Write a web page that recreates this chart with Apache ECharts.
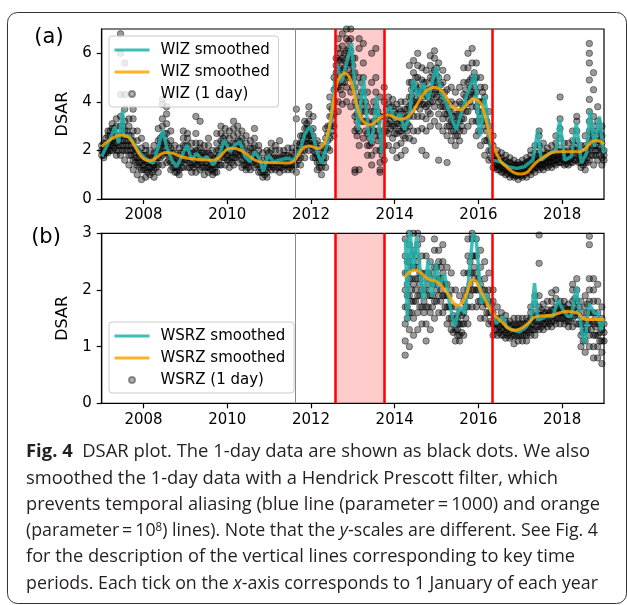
<!DOCTYPE html>
<html>
<head>
<meta charset="utf-8">
<title>DSAR plot</title>
<script src="https://cdn.jsdelivr.net/npm/echarts@6/dist/echarts.min.js"></script>
<style>
  html, body { margin: 0; padding: 0; background: #fff; }
  #chart { width: 627px; height: 605px; }
</style>
</head>
<body>
<div id="chart"></div>
<script>
// axis ticks
const xTicks = [2008, 2010, 2012, 2014, 2016, 2018]
const wizTicks = [0, 2, 4, 6]
const wsrzTicks = [0, 1, 2, 3]

// key time periods (decimal years)
const greyLine = 2011.62
const redLines = [2012.58, 2013.75, 2016.32]
const unrestSpan = [2012.58, 2013.75]

// WIZ 1-day values, full spread per 0.1 year: [year, [values]]
const wizDays = [
  [2007.05, [1.7, 1.9, 2.1, 2.3, 2.0, 1.8]],
  [2007.15, [2.0, 2.3, 2.6, 2.8, 2.2, 1.9]],
  [2007.25, [2.2, 2.6, 2.9, 3.1, 2.4, 2.0]],
  [2007.35, [2.0, 2.3, 2.6, 3.0, 3.3, 1.8]],
  [2007.45, [1.8, 2.2, 2.6, 3.0, 3.4, 4.3, 6.8, 6.0]],
  [2007.55, [1.6, 2.0, 2.4, 2.8, 3.2, 3.7, 5.6, 4.3]],
  [2007.65, [1.4, 1.8, 2.2, 2.6, 3.0, 3.3]],
  [2007.75, [1.2, 1.6, 2.0, 2.4, 2.8, 3.3, 3.7]],
  [2007.85, [1.0, 1.4, 1.7, 2.0, 2.4, 2.8]],
  [2007.95, [0.8, 1.2, 1.5, 1.8, 2.1, 2.5]],
  [2008.05, [0.9, 1.2, 1.5, 1.8, 2.0, 2.2]],
  [2008.15, [1.0, 1.3, 1.5, 1.7, 2.0]],
  [2008.25, [0.9, 1.2, 1.4, 1.7, 1.9, 2.2]],
  [2008.35, [1.1, 1.4, 1.7, 2.0, 2.4, 2.9]],
  [2008.45, [1.4, 1.8, 2.2, 2.6, 3.0, 3.3, 4.1, 3.9]],
  [2008.55, [1.5, 1.9, 2.3, 2.7, 3.1, 3.5, 3.8]],
  [2008.65, [1.2, 1.5, 1.8, 2.1, 2.4, 2.8]],
  [2008.75, [1.1, 1.3, 1.6, 1.9, 2.2]],
  [2008.85, [1.0, 1.2, 1.5, 1.8, 2.1]],
  [2008.95, [1.3, 1.6, 1.9, 2.2, 2.5, 2.8]],
  [2009.05, [1.3, 1.6, 1.9, 2.2, 2.5, 2.7]],
  [2009.15, [1.1, 1.4, 1.7, 2.0, 2.3]],
  [2009.25, [1.1, 1.4, 1.7, 2.0, 2.3, 2.7, 3.4]],
  [2009.35, [1.2, 1.5, 1.8, 2.1, 2.3, 3.2]],
  [2009.45, [1.0, 1.3, 1.6, 1.9, 2.2]],
  [2009.55, [1.1, 1.3, 1.6, 1.9, 2.2, 2.5]],
  [2009.65, [1.0, 1.2, 1.4, 1.7, 2.0]],
  [2009.75, [1.1, 1.4, 1.7, 2.0, 2.3, 2.7]],
  [2009.85, [1.4, 1.8, 2.1, 2.4, 2.7, 3.0]],
  [2009.95, [1.4, 1.7, 2.0, 2.3, 2.6, 2.9]],
  [2010.05, [1.3, 1.6, 1.9, 2.2, 2.5, 2.8]],
  [2010.15, [1.4, 1.7, 2.0, 2.3, 2.6, 2.9, 3.2]],
  [2010.25, [1.5, 1.8, 2.1, 2.4, 2.7, 3.0]],
  [2010.35, [1.3, 1.6, 1.9, 2.2, 2.5, 2.8]],
  [2010.45, [1.2, 1.4, 1.7, 2.0, 2.3, 2.6]],
  [2010.55, [1.2, 1.5, 1.8, 2.1, 2.4]],
  [2010.65, [1.3, 1.6, 1.9, 2.2, 2.5, 2.9]],
  [2010.75, [1.1, 1.4, 1.7, 2.0, 2.2]],
  [2010.85, [0.9, 1.1, 1.3, 1.6, 1.9]],
  [2010.95, [0.9, 1.1, 1.4, 1.7, 2.0]],
  [2011.05, [1.2, 1.4, 1.7, 2.0, 2.3]],
  [2011.15, [1.2, 1.5, 1.7, 2.0, 2.2]],
  [2011.25, [1.1, 1.3, 1.5, 1.7, 2.0, 2.4]],
  [2011.35, [1.2, 1.4, 1.6, 1.8, 2.0]],
  [2011.45, [1.2, 1.4, 1.6, 1.8, 2.1]],
  [2011.55, [1.2, 1.4, 1.6, 1.9, 2.1]],
  [2011.65, [1.1, 1.4, 1.7, 2.0, 2.3, 3.3, 3.7]],
  [2011.75, [1.4, 1.7, 2.0, 2.3, 2.6]],
  [2011.85, [1.7, 2.0, 2.3, 2.6, 2.9, 3.2]],
  [2011.95, [2.0, 2.3, 2.6, 2.9, 3.2, 3.5, 3.8]],
  [2012.05, [1.7, 2.0, 2.3, 2.6, 2.9, 3.4]],
  [2012.15, [1.2, 1.5, 1.8, 2.1, 2.4]],
  [2012.25, [1.0, 1.3, 1.6, 1.9, 2.2]],
  [2012.35, [1.3, 1.7, 2.1, 2.5, 2.9]],
  [2012.45, [2.0, 2.5, 3.0, 3.4, 3.8, 4.2]],
  [2012.55, [2.6, 3.0, 3.5, 4.0, 4.5, 5.0]],
  [2012.65, [4.0, 4.6, 5.2, 5.7, 6.2, 3.6, 6.6]],
  [2012.75, [4.3, 4.8, 5.3, 5.8, 6.3, 6.8, 3.9]],
  [2012.85, [4.0, 4.6, 5.1, 5.6, 6.1, 6.6, 7.0]],
  [2012.95, [4.4, 5.0, 5.6, 6.1, 6.6, 7.0, 3.8]],
  [2013.05, [2.8, 3.4, 4.0, 4.6, 5.2, 5.8, 1.2, 1.1]],
  [2013.15, [1.2, 2.2, 2.8, 3.4, 4.2, 5.0, 6.2, 6.6]],
  [2013.25, [2.5, 3.2, 3.8, 4.4, 5.0, 5.6, 6.4]],
  [2013.35, [1.8, 2.2, 2.7, 3.2, 3.8, 4.4]],
  [2013.45, [1.4, 1.8, 2.3, 2.9, 3.6, 4.8, 6.0]],
  [2013.55, [2.0, 2.6, 3.2, 3.8, 4.4, 5.0, 6.2]],
  [2013.65, [1.1, 1.5, 2.0, 2.6, 3.4, 4.2, 1.2]],
  [2013.75, [1.6, 2.2, 2.8, 3.4, 4.0, 4.6]],
  [2013.85, [2.2, 2.7, 3.1, 3.5, 3.9, 4.2]],
  [2013.95, [2.0, 2.5, 3.0, 3.4, 3.8, 4.1]],
  [2014.05, [1.7, 2.2, 2.7, 3.1, 3.5, 3.9]],
  [2014.15, [1.8, 2.3, 2.8, 3.2, 3.6, 4.0]],
  [2014.25, [2.0, 2.5, 2.9, 3.3, 3.7, 4.0]],
  [2014.35, [2.5, 3.0, 3.4, 3.8, 4.2, 4.8, 5.5]],
  [2014.45, [2.8, 3.4, 4.0, 4.6, 5.2, 5.7, 2.4]],
  [2014.55, [2.8, 3.4, 4.0, 4.5, 5.0, 5.5, 6.0]],
  [2014.65, [2.9, 3.4, 3.9, 4.4, 4.9, 5.4, 2.0]],
  [2014.75, [2.8, 3.3, 3.8, 4.3, 4.8, 5.3, 1.8]],
  [2014.85, [3.0, 3.5, 4.0, 4.5, 5.0, 5.5, 5.9]],
  [2014.95, [3.2, 3.8, 4.3, 4.8, 5.3, 5.8, 6.1]],
  [2015.05, [3.0, 3.5, 4.0, 4.5, 5.0, 5.6, 1.6]],
  [2015.15, [2.8, 3.3, 3.8, 4.3, 4.8, 5.3]],
  [2015.25, [2.6, 3.0, 3.5, 4.0, 4.5, 5.0, 1.5]],
  [2015.35, [2.4, 2.8, 3.2, 3.6, 4.0, 4.6]],
  [2015.45, [2.2, 2.6, 3.0, 3.4, 3.9, 4.4]],
  [2015.55, [2.4, 2.8, 3.2, 3.6, 4.0, 4.6]],
  [2015.65, [2.8, 3.3, 3.8, 4.3, 4.8, 5.4]],
  [2015.75, [3.0, 3.6, 4.2, 4.8, 5.4, 6.0]],
  [2015.85, [3.2, 3.8, 4.4, 5.0, 5.6, 6.2]],
  [2015.95, [2.6, 3.2, 3.8, 4.4, 5.0, 5.6]],
  [2016.05, [2.2, 2.8, 3.4, 4.0, 4.6, 5.0]],
  [2016.15, [1.8, 2.4, 3.0, 3.6, 4.2, 4.6]],
  [2016.25, [1.6, 2.0, 2.5, 3.0, 3.6]],
  [2016.35, [1.3, 1.6, 1.9, 2.2, 2.6]],
  [2016.45, [1.2, 1.4, 1.6, 1.8, 2.0]],
  [2016.55, [1.1, 1.3, 1.5, 1.7, 1.9]],
  [2016.65, [1.0, 1.2, 1.4, 1.6, 1.8]],
  [2016.75, [0.9, 1.1, 1.3, 1.5, 1.7]],
  [2016.85, [0.9, 1.0, 1.2, 1.4, 1.6]],
  [2016.95, [0.8, 1.0, 1.2, 1.4, 1.5]],
  [2017.05, [0.9, 1.0, 1.2, 1.4, 1.6]],
  [2017.15, [0.9, 1.1, 1.3, 1.5, 1.7]],
  [2017.25, [1.0, 1.2, 1.4, 1.6, 1.8, 2.0]],
  [2017.35, [1.1, 1.3, 1.5, 1.7, 1.9, 2.2]],
  [2017.45, [1.2, 1.4, 1.6, 1.9, 2.2, 2.6, 2.8]],
  [2017.55, [1.2, 1.4, 1.6, 1.8, 2.0, 2.3]],
  [2017.65, [1.3, 1.5, 1.7, 1.9, 2.1]],
  [2017.75, [1.3, 1.5, 1.7, 1.9, 2.2]],
  [2017.85, [1.4, 1.6, 1.8, 2.0, 2.3, 2.6]],
  [2017.95, [1.5, 1.8, 2.1, 2.5, 2.9, 3.3, 4.2]],
  [2018.05, [1.4, 1.6, 1.8, 2.0, 2.3]],
  [2018.15, [1.4, 1.6, 1.8, 2.0, 2.3]],
  [2018.25, [1.5, 1.8, 2.1, 2.4, 2.8]],
  [2018.35, [1.6, 2.0, 2.4, 2.8, 3.2, 3.4]],
  [2018.45, [1.3, 1.5, 1.7, 1.9, 2.2]],
  [2018.55, [1.2, 1.5, 1.8, 2.2, 2.6]],
  [2018.65, [1.6, 2.0, 2.4, 2.8, 3.2, 3.6, 4.1, 4.9, 5.6, 6.0, 6.4]],
  [2018.75, [1.4, 1.8, 2.2, 2.6, 3.0, 3.4, 5.2, 4.5]],
  [2018.85, [1.6, 2.0, 2.4, 2.8, 3.2, 3.8]],
  [2018.95, [1.4, 1.7, 2.0, 2.3, 2.6, 3.0]]
]

// WIZ 1-day values inside the dense black band, per 0.1 year
const wizCore = [
  [2007.0, [1.8, 2.0, 2.2]], [2007.1, [1.9, 2.1, 2.3, 2.5]], [2007.2, [2.0, 2.2, 2.4, 2.6, 2.8]],
  [2007.3, [2.1, 2.3, 2.5, 2.7, 2.9]], [2007.4, [2.0, 2.2, 2.4, 2.6]], [2007.5, [2.0, 2.2, 2.4, 2.6, 2.8, 3.0]],
  [2007.6, [2.0, 2.2, 2.4, 2.6, 2.8]], [2007.7, [1.8, 2.0, 2.2, 2.4, 2.6]], [2007.8, [1.5, 1.7, 1.9, 2.1]],
  [2007.9, [1.3, 1.5, 1.7, 1.9]], [2008.0, [1.2, 1.4, 1.6, 1.8]], [2008.1, [1.1, 1.3, 1.5, 1.7]],
  [2008.2, [1.1, 1.3, 1.5, 1.7]], [2008.3, [1.3, 1.5, 1.7, 1.9]], [2008.4, [1.7, 1.9, 2.1, 2.3, 2.5]],
  [2008.5, [1.9, 2.1, 2.3, 2.5, 2.7]], [2008.6, [1.6, 1.8, 2.0, 2.2]], [2008.7, [1.3, 1.5, 1.7, 1.9]],
  [2008.8, [1.1, 1.3, 1.5, 1.7]], [2008.9, [1.3, 1.5, 1.7, 1.9]], [2009.0, [1.6, 1.8, 2.0, 2.2]],
  [2009.1, [1.3, 1.5, 1.7, 1.9]], [2009.2, [1.3, 1.5, 1.7, 1.9]], [2009.3, [1.4, 1.6, 1.8, 2.0]],
  [2009.4, [1.3, 1.5, 1.7, 1.9]], [2009.5, [1.3, 1.5, 1.7, 1.9]], [2009.6, [1.2, 1.4, 1.6, 1.8]],
  [2009.7, [1.1, 1.3, 1.5, 1.7]], [2009.8, [1.4, 1.6, 1.8, 2.0]], [2009.9, [1.7, 1.9, 2.1, 2.3, 2.5]],
  [2010.0, [1.6, 1.8, 2.0, 2.2]], [2010.1, [1.5, 1.7, 1.9, 2.1]], [2010.2, [1.7, 1.9, 2.1, 2.3]],
  [2010.3, [1.8, 2.0, 2.2, 2.4]], [2010.4, [1.4, 1.6, 1.8, 2.0]], [2010.5, [1.3, 1.5, 1.7]],
  [2010.6, [1.5, 1.7, 1.9, 2.1]], [2010.7, [1.4, 1.6, 1.8]], [2010.8, [1.1, 1.3, 1.5]],
  [2010.9, [1.0, 1.2, 1.4]], [2011.0, [1.3, 1.5, 1.7, 1.9]], [2011.1, [1.3, 1.5, 1.7]],
  [2011.2, [1.3, 1.5, 1.7]], [2011.3, [1.3, 1.5, 1.7]], [2011.4, [1.4, 1.6, 1.8]],
  [2011.5, [1.3, 1.5, 1.7]], [2011.6, [1.4, 1.6, 1.8]], [2011.7, [1.6, 1.8, 2.0, 2.2]],
  [2011.8, [2.0, 2.2, 2.4, 2.6]], [2011.9, [2.3, 2.5, 2.7, 2.9, 3.1]], [2012.0, [2.2, 2.4, 2.6, 2.8]],
  [2012.1, [1.7, 1.9, 2.1, 2.3]], [2012.2, [1.3, 1.5, 1.7]], [2012.3, [1.5, 1.7, 1.9, 2.1]],
  [2012.4, [2.1, 2.4, 2.7, 3.0]], [2012.5, [2.8, 3.1, 3.4, 3.7]], [2012.6, [4.6, 4.9, 5.2, 5.5, 5.8]],
  [2012.7, [4.5, 4.8, 5.1, 5.4, 5.7, 6.0]], [2012.8, [4.8, 5.1, 5.4, 5.7, 6.0]], [2012.9, [5.0, 5.3, 5.6, 5.9, 6.2, 6.5]],
  [2013.0, [4.6, 4.9, 5.2, 5.5, 5.8]], [2013.1, [2.6, 2.9, 3.2, 3.5, 3.8]], [2013.2, [3.2, 3.6, 4.0, 4.4, 4.8]],
  [2013.3, [2.8, 3.2, 3.6, 4.0]], [2013.4, [2.2, 2.5, 2.8, 3.1]], [2013.5, [2.8, 3.2, 3.6, 4.0]],
  [2013.6, [2.4, 2.8, 3.2, 3.6]], [2013.7, [1.8, 2.1, 2.4, 2.8]], [2013.8, [2.8, 3.1, 3.4, 3.7]],
  [2013.9, [2.9, 3.2, 3.5, 3.8]], [2014.0, [2.7, 3.0, 3.3, 3.6]], [2014.1, [2.8, 3.1, 3.4, 3.7]],
  [2014.2, [2.6, 2.9, 3.2, 3.5]], [2014.3, [2.8, 3.1, 3.4, 3.7]], [2014.4, [3.6, 3.9, 4.2, 4.5, 4.8]],
  [2014.5, [3.8, 4.1, 4.4, 4.7, 5.0]], [2014.6, [3.7, 4.0, 4.3, 4.6]], [2014.7, [3.9, 4.2, 4.5, 4.8]],
  [2014.8, [3.6, 3.9, 4.2, 4.5]], [2014.9, [4.0, 4.3, 4.6, 4.9, 5.2]], [2015.0, [4.2, 4.5, 4.8, 5.1, 5.4]],
  [2015.1, [3.8, 4.1, 4.4, 4.7]], [2015.2, [3.5, 3.8, 4.1, 4.4]], [2015.3, [3.0, 3.3, 3.6, 3.9]],
  [2015.4, [2.8, 3.1, 3.4]], [2015.5, [2.6, 2.9, 3.2, 3.5]], [2015.6, [3.0, 3.3, 3.6, 3.9]],
  [2015.7, [3.6, 3.9, 4.2, 4.5]], [2015.8, [4.0, 4.3, 4.6, 4.9]], [2015.9, [4.3, 4.6, 4.9, 5.2]],
  [2016.0, [2.8, 3.2, 3.6, 4.0]], [2016.1, [3.2, 3.6, 4.0, 4.4]], [2016.2, [2.4, 2.8, 3.2]],
  [2016.3, [1.7, 2.0, 2.3]], [2016.4, [1.3, 1.45, 1.6, 1.75]], [2016.5, [1.2, 1.35, 1.5, 1.65]],
  [2016.6, [1.1, 1.25, 1.4, 1.55]], [2016.7, [1.05, 1.2, 1.35, 1.5]], [2016.8, [1.0, 1.15, 1.3, 1.45]],
  [2016.9, [0.95, 1.1, 1.25, 1.4]], [2017.0, [0.95, 1.1, 1.25, 1.4]], [2017.1, [1.0, 1.15, 1.3, 1.45]],
  [2017.2, [1.1, 1.25, 1.4, 1.55]], [2017.3, [1.2, 1.35, 1.5, 1.65]], [2017.4, [1.3, 1.45, 1.6, 1.75]],
  [2017.5, [1.3, 1.45, 1.6, 1.75]], [2017.6, [1.35, 1.5, 1.65, 1.8]], [2017.7, [1.4, 1.55, 1.7, 1.85]],
  [2017.8, [1.45, 1.6, 1.75, 1.9]], [2017.9, [1.5, 1.65, 1.8, 1.95]], [2018.0, [1.5, 1.65, 1.8, 1.95]],
  [2018.1, [1.45, 1.6, 1.75, 1.9]], [2018.2, [1.5, 1.65, 1.8, 1.95]], [2018.3, [1.6, 1.8, 2.0, 2.2]],
  [2018.4, [1.5, 1.7, 1.9]], [2018.5, [1.4, 1.55, 1.7, 1.85]], [2018.6, [1.5, 1.7, 1.9, 2.1]],
  [2018.7, [1.8, 2.1, 2.4, 2.7]], [2018.8, [1.8, 2.0, 2.2, 2.4]], [2018.9, [1.8, 2.1, 2.4, 2.7]],
  [2019.0, [1.6, 1.8, 2.0]]
]

// WIZ smoothed, HP parameter 1000
const wizFast = [
  [2007.0, 1.75], [2007.19, 2.43], [2007.32, 2.98], [2007.4, 2.29], [2007.5, 3.67],
  [2007.53, 2.56], [2007.64, 2.64], [2007.76, 2.29], [2007.92, 1.88], [2008.08, 1.61],
  [2008.23, 1.47], [2008.35, 2.15], [2008.46, 2.84], [2008.55, 2.15], [2008.67, 1.61],
  [2008.79, 1.33], [2008.91, 1.75], [2009.03, 2.22], [2009.15, 1.61], [2009.27, 1.88],
  [2009.39, 1.61], [2009.51, 1.75], [2009.67, 1.4], [2009.83, 1.88], [2009.92, 2.43],
  [2010.07, 1.95], [2010.18, 2.22], [2010.3, 2.36], [2010.42, 1.75], [2010.54, 1.54],
  [2010.66, 1.95], [2010.78, 1.61], [2010.86, 1.13], [2010.98, 1.81], [2011.1, 1.54],
  [2011.26, 1.61], [2011.42, 1.68], [2011.58, 1.61], [2011.74, 2.02], [2011.86, 2.71],
  [2011.98, 3.0], [2012.05, 2.6], [2012.13, 2.02], [2012.25, 1.47], [2012.37, 2.15],
  [2012.49, 3.4], [2012.61, 5.6], [2012.73, 4.8], [2012.85, 5.6], [2012.97, 6.42],
  [2013.05, 4.63], [2013.13, 2.84], [2013.25, 5.05], [2013.37, 2.71], [2013.45, 2.29],
  [2013.57, 4.22], [2013.69, 1.88], [2013.76, 3.4], [2013.88, 3.81], [2014.0, 3.26],
  [2014.12, 3.53], [2014.24, 2.84], [2014.36, 3.53], [2014.44, 4.91], [2014.56, 4.22],
  [2014.68, 4.77], [2014.8, 4.08], [2014.92, 4.97], [2014.99, 5.46], [2015.11, 4.36],
  [2015.23, 3.95], [2015.35, 3.4], [2015.47, 2.84], [2015.59, 3.53], [2015.71, 4.22],
  [2015.83, 4.77], [2015.91, 5.18], [2016.03, 2.57], [2016.15, 4.22], [2016.27, 2.57],
  [2016.33, 1.6], [2016.51, 1.54], [2016.71, 1.33], [2016.91, 1.26], [2017.1, 1.33],
  [2017.3, 1.6], [2017.42, 2.84], [2017.5, 1.6], [2017.7, 1.88], [2017.86, 2.02],
  [2017.94, 3.26], [2018.06, 1.6], [2018.22, 1.75], [2018.34, 3.12], [2018.46, 1.47],
  [2018.58, 1.88], [2018.67, 3.67], [2018.77, 2.15], [2018.89, 3.4], [2018.99, 1.88]
]

// WIZ smoothed, HP parameter 1e8
const wizSlow = [
  [2007.0, 2.15], [2007.48, 2.64], [2008.15, 1.58], [2008.55, 1.91], [2009.05, 1.68],
  [2009.65, 1.6], [2010.1, 2.09], [2010.9, 1.5], [2011.45, 1.48], [2011.95, 2.18],
  [2012.17, 2.08], [2012.81, 5.18], [2013.4, 3.05], [2013.84, 3.46], [2014.12, 3.28],
  [2014.96, 4.59], [2015.55, 3.67], [2015.87, 4.12], [2016.43, 1.88], [2016.67, 1.32],
  [2017.02, 1.03], [2017.46, 1.61], [2017.94, 1.95], [2018.4, 1.95], [2018.81, 2.41],
  [2019.0, 2.26]
]

// WSRZ 1-day values, full spread per 0.1 year
const wsrzDays = [
  [2014.25, [0.85, 1.1, 1.4, 1.7, 2.0, 2.3, 2.6, 2.9]],
  [2014.35, [1.0, 1.3, 1.6, 1.9, 2.2, 2.5, 2.8, 3.0]],
  [2014.45, [1.2, 1.5, 1.8, 2.1, 2.4, 2.7, 3.0]],
  [2014.55, [1.3, 1.6, 1.9, 2.2, 2.5, 2.8, 3.0]],
  [2014.65, [1.4, 1.7, 2.0, 2.3, 2.6, 2.9]],
  [2014.75, [1.1, 1.4, 1.7, 2.0, 2.3, 2.6]],
  [2014.85, [1.3, 1.6, 1.9, 2.2, 2.5]],
  [2014.95, [1.5, 1.8, 2.1, 2.4, 2.7, 2.9]],
  [2015.05, [1.6, 1.9, 2.2, 2.5, 2.7]],
  [2015.15, [1.6, 1.9, 2.1, 2.3, 2.5, 2.8]],
  [2015.25, [1.4, 1.7, 1.9, 2.1, 2.4]],
  [2015.35, [1.3, 1.5, 1.7, 2.0, 2.3]],
  [2015.45, [1.1, 1.3, 1.5, 1.7, 2.0]],
  [2015.55, [1.1, 1.2, 1.4, 1.6, 1.9]],
  [2015.65, [1.2, 1.4, 1.6, 1.8, 2.0, 2.3]],
  [2015.75, [1.4, 1.7, 2.0, 2.3, 2.6, 2.9]],
  [2015.85, [1.7, 2.0, 2.3, 2.6, 2.9, 3.0]],
  [2015.95, [1.7, 2.0, 2.3, 2.6, 2.9]],
  [2016.05, [1.5, 1.8, 2.1, 2.4, 2.7]],
  [2016.15, [1.5, 1.8, 2.0, 2.2, 2.5]],
  [2016.25, [1.4, 1.6, 1.8, 2.0, 2.3]],
  [2016.35, [1.2, 1.4, 1.6, 1.8, 2.0]],
  [2016.45, [1.2, 1.3, 1.4, 1.5, 1.7]],
  [2016.55, [1.2, 1.3, 1.4, 1.5, 1.6]],
  [2016.65, [1.15, 1.25, 1.35, 1.45, 1.55]],
  [2016.75, [1.15, 1.25, 1.35, 1.45]],
  [2016.85, [1.05, 1.2, 1.3, 1.4, 1.5]],
  [2016.95, [1.1, 1.2, 1.3, 1.4, 1.5]],
  [2017.05, [1.1, 1.2, 1.3, 1.4, 1.5]],
  [2017.15, [1.1, 1.2, 1.3, 1.4, 1.5]],
  [2017.25, [1.2, 1.3, 1.4, 1.5, 1.6, 1.7]],
  [2017.35, [1.2, 1.3, 1.45, 1.6, 1.75, 1.9]],
  [2017.45, [1.3, 1.4, 1.55, 1.7, 1.9, 2.47, 2.97]],
  [2017.55, [1.3, 1.4, 1.5, 1.6, 1.75]],
  [2017.65, [1.35, 1.45, 1.55, 1.65, 1.8]],
  [2017.75, [1.35, 1.45, 1.55, 1.65, 1.8, 1.95]],
  [2017.85, [1.4, 1.5, 1.6, 1.7, 1.85, 2.0]],
  [2017.95, [1.4, 1.5, 1.6, 1.7, 1.8]],
  [2018.05, [1.4, 1.5, 1.6, 1.7, 1.8]],
  [2018.15, [1.35, 1.45, 1.55, 1.65, 1.75]],
  [2018.25, [1.35, 1.5, 1.65, 1.8, 2.0, 2.1]],
  [2018.35, [1.4, 1.6, 1.8, 2.0, 2.2]],
  [2018.45, [1.0, 1.2, 1.4, 1.6, 1.8]],
  [2018.55, [0.9, 1.1, 1.3, 1.5, 1.7, 1.9]],
  [2018.65, [1.0, 1.2, 1.4, 1.6, 1.8, 2.0, 2.2, 2.8, 2.95]],
  [2018.75, [0.8, 1.0, 1.2, 1.4, 1.6, 1.8, 2.0, 2.2]],
  [2018.85, [0.8, 1.0, 1.2, 1.4, 1.6, 1.8, 2.1]],
  [2018.95, [0.7, 0.9, 1.1, 1.3, 1.5, 1.7]]
]

// WSRZ 1-day values inside the dense black band, per 0.1 year
const wsrzCore = [
  [2014.3, [1.5, 1.7, 1.9, 2.1, 2.3, 2.5]], [2014.4, [1.6, 1.8, 2.0, 2.2, 2.4, 2.6]], [2014.5, [1.8, 2.0, 2.2, 2.4, 2.6]],
  [2014.6, [1.7, 1.9, 2.1, 2.3]], [2014.7, [1.6, 1.8, 2.0, 2.2]], [2014.8, [1.7, 1.9, 2.1, 2.3]],
  [2014.9, [1.7, 1.9, 2.1, 2.3]], [2015.0, [1.8, 2.0, 2.2, 2.4]], [2015.1, [1.8, 2.0, 2.2, 2.4]],
  [2015.2, [1.7, 1.9, 2.1]], [2015.3, [1.5, 1.7, 1.9]], [2015.4, [1.25, 1.4, 1.55]],
  [2015.5, [1.2, 1.3, 1.4, 1.5]], [2015.6, [1.25, 1.4, 1.55]], [2015.7, [1.5, 1.7, 1.9]],
  [2015.8, [1.9, 2.1, 2.3, 2.5]], [2015.9, [2.0, 2.2, 2.4, 2.6]], [2016.0, [1.8, 2.0, 2.2]],
  [2016.1, [1.7, 1.85, 2.0]], [2016.2, [1.6, 1.75, 1.9]], [2016.3, [1.45, 1.6, 1.75]],
  [2016.4, [1.3, 1.4, 1.5]], [2016.5, [1.25, 1.35, 1.45]], [2016.6, [1.2, 1.3, 1.4]],
  [2016.7, [1.2, 1.3, 1.4]], [2016.8, [1.18, 1.28, 1.38]], [2016.9, [1.18, 1.28, 1.38]],
  [2017.0, [1.2, 1.3, 1.4]], [2017.1, [1.2, 1.3, 1.4]], [2017.2, [1.25, 1.35, 1.45]],
  [2017.3, [1.3, 1.4, 1.5]], [2017.4, [1.35, 1.45, 1.55]], [2017.5, [1.35, 1.45, 1.55, 1.65]],
  [2017.6, [1.4, 1.5, 1.6]], [2017.7, [1.4, 1.5, 1.6]], [2017.8, [1.45, 1.55, 1.65]],
  [2017.9, [1.5, 1.6, 1.7]], [2018.0, [1.5, 1.6, 1.7]], [2018.1, [1.45, 1.55, 1.65]],
  [2018.2, [1.45, 1.55, 1.65]], [2018.3, [1.55, 1.7, 1.85]], [2018.4, [1.4, 1.55, 1.7]],
  [2018.5, [1.1, 1.25, 1.4]], [2018.6, [1.3, 1.45, 1.6, 1.75]], [2018.7, [1.3, 1.45, 1.6]],
  [2018.8, [1.2, 1.35, 1.5]], [2018.9, [1.1, 1.25, 1.4]], [2019.0, [1.1, 1.25, 1.4]]
]

// WSRZ smoothed, HP parameter 1000
const wsrzFast = [
  [2014.26, 2.9], [2014.3, 1.45], [2014.36, 3.1], [2014.44, 2.35], [2014.52, 2.94],
  [2014.6, 2.41], [2014.68, 1.82], [2014.8, 2.53], [2014.88, 1.88], [2014.99, 2.47],
  [2015.07, 2.06], [2015.19, 2.29], [2015.31, 1.76], [2015.43, 1.35], [2015.55, 1.7],
  [2015.67, 1.59], [2015.75, 2.06], [2015.87, 3.0], [2015.95, 2.88], [2016.07, 1.76],
  [2016.19, 1.94], [2016.31, 1.59], [2016.43, 1.41], [2016.59, 1.53], [2016.67, 1.35],
  [2016.82, 1.29], [2016.98, 1.26], [2017.14, 1.35], [2017.26, 1.47], [2017.34, 2.12],
  [2017.42, 1.47], [2017.62, 1.53], [2017.78, 1.53], [2017.9, 1.82], [2018.02, 1.65],
  [2018.14, 1.53], [2018.22, 1.53], [2018.34, 2.06], [2018.46, 1.29], [2018.54, 1.06],
  [2018.65, 1.76], [2018.77, 1.59], [2018.85, 1.59], [2018.93, 1.29], [2019.0, 1.5]
]

// WSRZ smoothed, HP parameter 1e8
const wsrzSlow = [
  [2014.24, 2.23], [2014.48, 2.35], [2014.83, 2.18], [2015.0, 2.15], [2015.23, 1.97],
  [2015.51, 1.73], [2015.67, 1.85], [2015.87, 2.18], [2016.07, 1.97], [2016.31, 1.62],
  [2016.51, 1.47], [2016.87, 1.29], [2017.14, 1.38], [2017.38, 1.53], [2017.78, 1.56],
  [2018.1, 1.62], [2018.34, 1.6], [2018.58, 1.48], [2019.0, 1.48]
]

const captionLines = [
  '{b|Fig. 4}  DSAR plot. The 1-day data are shown as black dots. We also',
  'smoothed the 1-day data with a Hendrick Prescott filter, which',
  'prevents temporal aliasing (blue line (parameter\u2009=\u20091000) and orange',
  '(parameter\u2009=\u200910{sup|8}) lines). Note that the {i|y}-scales are different. See Fig. 4',
  'for the description of the vertical lines corresponding to key time',
  'periods. Each tick on the {i|x}-axis corresponds to 1 January of each year'
]
// right edge of each caption line in the figure
const captionRight = [590, 558, 600, 598, 575, 598]

const TEAL = 'rgba(32,178,170,0.85)'
const ORANGE = 'rgba(255,165,0,0.85)'
const FONT = 'DejaVu Sans'
const CAP_FONT = 'Open Sans'
const CAP_SIZE = 18.5

function flatten() {
  const out = []
  Array.prototype.forEach.call(arguments, function (bins) {
    bins.forEach(function (b) {
      b[1].forEach(function (v) { out.push([b[0], v]) })
    })
  })
  return out
}

// natural width of a rich caption line, used to squeeze it to the printed width
const measureCtx = document.createElement('canvas').getContext('2d')
function capFont(tag) {
  if (tag === 'b') return 'bold ' + CAP_SIZE + 'px "' + CAP_FONT + '"'
  if (tag === 'i') return 'italic ' + CAP_SIZE + 'px "' + CAP_FONT + '"'
  if (tag === 'sup') return '12px "' + CAP_FONT + '"'
  return CAP_SIZE + 'px "' + CAP_FONT + '"'
}
function captionWidth(line) {
  let w = 0
  line.replace(/\{(\w+)\|([^}]*)\}|([^{]+)/g, function (m, tag, inner, plain) {
    measureCtx.font = capFont(plain ? null : tag)
    w += measureCtx.measureText(plain || inner).width
    return m
  })
  return w
}

function xAxisFor(gi) {
  return {
    type: 'value', gridIndex: gi, min: 2007, max: 2019,
    splitLine: { show: false },
    axisLine: { lineStyle: { color: '#000', width: 1.2 } },
    axisTick: { customValues: xTicks, length: 5, lineStyle: { color: '#000', width: 1.2 } },
    axisLabel: { customValues: xTicks, color: '#000', fontSize: 15, fontFamily: FONT, margin: 9,
      formatter: function (v) { return String(v) } }
  }
}

function yAxisFor(gi, max, ticks) {
  return {
    type: 'value', gridIndex: gi, min: 0, max: max,
    name: 'DSAR', nameLocation: 'middle', nameGap: 23,
    nameTextStyle: { color: '#000', fontSize: 16, fontFamily: FONT },
    splitLine: { show: false },
    axisLine: { show: true, lineStyle: { color: '#000', width: 1.2 } },
    axisTick: { show: true, customValues: ticks, length: 5, lineStyle: { color: '#000', width: 1.2 } },
    axisLabel: { customValues: ticks, color: '#000', fontSize: 15, fontFamily: FONT, margin: 10 }
  }
}

function dotSeries(name, gi, data) {
  return {
    name: name, type: 'scatter', xAxisIndex: gi, yAxisIndex: gi,
    data: data, symbolSize: 6.5, z: 2,
    itemStyle: { color: 'rgba(0,0,0,0.5)', borderColor: 'rgba(0,0,0,0.65)', borderWidth: 0.8 },
    markArea: {
      silent: true,
      itemStyle: { color: 'rgba(255,0,0,0.2)' },
      data: [[{ xAxis: unrestSpan[0] }, { xAxis: unrestSpan[1] }]]
    }
  }
}

function lineSeries(name, gi, data, color, width, smooth, z, withMarks) {
  const s = {
    name: name, type: 'line', xAxisIndex: gi, yAxisIndex: gi,
    data: data, showSymbol: false, symbol: 'none', smooth: smooth, z: z,
    clip: true,
    itemStyle: { color: color },
    lineStyle: { color: color, width: width }
  }
  if (withMarks) {
    s.markLine = {
      silent: true, symbol: 'none', label: { show: false },
      data: [{ xAxis: greyLine, lineStyle: { color: '#888', width: 1, type: 'solid' } }].concat(
        redLines.map(function (x) {
          return { xAxis: x, lineStyle: { color: '#ff0000', width: 2.5, type: 'solid' } }
        }))
    }
  }
  return s
}

// legend entries: two lines without the centre marker, then the dot
function legendFor(top, names, lineColors) {
  const hidden = { color: 'rgba(0,0,0,0)', borderColor: 'rgba(0,0,0,0)', borderWidth: 0, opacity: 0 }
  return {
    orient: 'vertical', left: 109, top: top,
    data: [
      { name: names[0], itemStyle: hidden, lineStyle: { width: 3, color: lineColors[0] } },
      { name: names[1], itemStyle: hidden, lineStyle: { width: 3, color: lineColors[1] } },
      { name: names[2], itemStyle: { color: 'rgba(0,0,0,0.35)', borderColor: 'rgba(0,0,0,0.5)' } }
    ],
    itemWidth: 35, itemHeight: 6, itemGap: 6,
    backgroundColor: 'rgba(255,255,255,0.8)', borderColor: '#ccc', borderWidth: 1, borderRadius: 3,
    padding: [6, 4, 5, 4],
    textStyle: { color: '#000', fontSize: 15, fontFamily: FONT, lineHeight: 16, padding: [0, 0, 0, 6] },
    selectedMode: false
  }
}

const chart = echarts.init(document.getElementById('chart'), null, { renderer: 'canvas' })

chart.setOption({
  animation: false,
  backgroundColor: '#fff',
  grid: [
    { left: 101.7, top: 29, width: 502.3, height: 170, show: true, borderColor: '#000', borderWidth: 1.2 },
    { left: 101.7, top: 233.3, width: 502.3, height: 170, show: true, borderColor: '#000', borderWidth: 1.2 }
  ],
  xAxis: [xAxisFor(0), xAxisFor(1)],
  yAxis: [yAxisFor(0, 7, wizTicks), yAxisFor(1, 3, wsrzTicks)],
  legend: [
    legendFor(36, ['WIZ smoothed', 'WIZ smoothed ', 'WIZ (1 day)'], [TEAL, ORANGE]),
    legendFor(322, ['WSRZ smoothed', 'WSRZ smoothed ', 'WSRZ (1 day)'], [TEAL, ORANGE])
  ],
  series: [
    dotSeries('WIZ (1 day)', 0, flatten(wizDays, wizCore)),
    lineSeries('WIZ smoothed', 0, wizFast, TEAL, 3.5, false, 3, false),
    lineSeries('WIZ smoothed ', 0, wizSlow, ORANGE, 3, true, 4, true),
    dotSeries('WSRZ (1 day)', 1, flatten(wsrzDays, wsrzCore)),
    lineSeries('WSRZ smoothed', 1, wsrzFast, TEAL, 3.5, false, 3, false),
    lineSeries('WSRZ smoothed ', 1, wsrzSlow, ORANGE, 3, true, 4, true)
  ],
  graphic: [
    { type: 'rect', silent: true, shape: { x: 7.5, y: 12.5, width: 619, height: 591, r: 10 },
      style: { fill: 'none', stroke: '#333', lineWidth: 1 } },
    { type: 'text', x: 49, y: 38, silent: true,
      style: { text: '(a)', fontSize: 21, fontFamily: FONT, fill: '#000', textAlign: 'center', textVerticalAlign: 'middle' } },
    { type: 'text', x: 46, y: 238, silent: true,
      style: { text: '(b)', fontSize: 21, fontFamily: FONT, fill: '#000', textAlign: 'center', textVerticalAlign: 'middle' } }
  ].concat(captionLines.map(function (line, i) {
    const sx = (captionRight[i] - 26) / captionWidth(line)
    return {
      type: 'text', x: 26, y: 452 + i * 26.3, scaleX: sx, silent: true,
      style: {
        text: line, fontSize: CAP_SIZE, fontFamily: CAP_FONT,
        fill: '#231f20', textVerticalAlign: 'middle',
        rich: {
          b: { fontSize: CAP_SIZE, fontWeight: 'bold', fontFamily: CAP_FONT, fill: '#231f20' },
          i: { fontSize: CAP_SIZE, fontStyle: 'italic', fontFamily: CAP_FONT, fill: '#231f20' },
          sup: { fontSize: 12, fontFamily: CAP_FONT, fill: '#231f20', verticalAlign: 'top', padding: [0, 0, 6, 0] }
        }
      }
    }
  }))
})
</script>
</body>
</html>
